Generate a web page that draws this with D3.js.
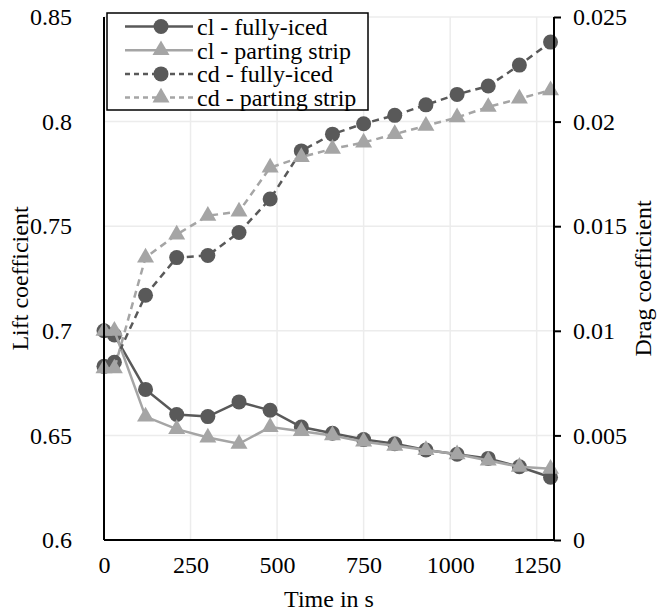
<!DOCTYPE html>
<html><head><meta charset="utf-8">
<script src="https://cdn.jsdelivr.net/npm/d3@7"></script>
<style>
html,body{margin:0;padding:0;background:#fff;}
</style></head>
<body>
<svg id="chart" width="665" height="616"></svg>
<script>
const times = [0,30,120,210,300,390,480,570,660,750,840,930,1020,1110,1200,1290];
const clFullyIced = [0.700,0.698,0.672,0.660,0.659,0.666,0.662,0.654,0.651,0.648,0.646,0.643,0.641,0.639,0.635,0.630];
const clPartingStrip = [0.700,0.700,0.659,0.653,0.649,0.646,0.654,0.652,0.650,0.647,0.645,0.643,0.641,0.638,0.635,0.634];
const cdFullyIced = [0.0083,0.0085,0.0117,0.0135,0.0136,0.0147,0.0163,0.0186,0.0194,0.0199,0.0203,0.0208,0.0213,0.0217,0.0227,0.0238];
const cdPartingStrip = [0.0082,0.0082,0.0135,0.0146,0.0155,0.0157,0.0178,0.0183,0.0187,0.0190,0.0194,0.0198,0.0202,0.0207,0.0211,0.0215];
const xTicks = [0,250,500,750,1000,1250];
const clTicks = [0.6,0.65,0.7,0.75,0.8,0.85];
const cdTicks = [0,0.005,0.01,0.015,0.02,0.025];
const seriesNames = ["cl - fully-iced","cl - parting strip","cd - fully-iced","cd - parting strip"];

const FONT = "'Liberation Serif', serif";
const dark = "#595959", light = "#a5a5a5";
const FS = 24;
const svg = d3.select("#chart");
const m = {l:104, r:554, t:17, b:540};
const x = d3.scaleLinear().domain([0,1300]).range([m.l, m.r]);
const yL = d3.scaleLinear().domain([0.6,0.85]).range([m.b, m.t]);
const yR = d3.scaleLinear().domain([0,0.025]).range([m.b, m.t]);

function txt(sel){ return sel.style("font-family", FONT).style("font-size", FS+"px").attr("fill","#000"); }

// gridlines
const g = svg.append("g");
g.selectAll(".hg").data(clTicks).join("line")
  .attr("x1", m.l).attr("x2", m.r).attr("y1", d=>yL(d)).attr("y2", d=>yL(d))
  .attr("stroke", "#ececec").attr("stroke-width", 1.5);
g.selectAll(".vg").data(xTicks.slice(1)).join("line")
  .attr("x1", d=>x(d)).attr("x2", d=>x(d)).attr("y1", m.t).attr("y2", m.b)
  .attr("stroke", "#ececec").attr("stroke-width", 1.5);

const series = [
  {name: seriesNames[0], vals: clFullyIced, y: yL, color: dark, dash: null, sym: "circle"},
  {name: seriesNames[1], vals: clPartingStrip, y: yL, color: light, dash: null, sym: "tri"},
  {name: seriesNames[2], vals: cdFullyIced, y: yR, color: dark, dash: "7,5", sym: "circle"},
  {name: seriesNames[3], vals: cdPartingStrip, y: yR, color: light, dash: "7,5", sym: "tri"}
];
const tri = d3.symbol().type(d3.symbolTriangle).size(125);

function marker(sel, s, cx, cy){
  if (s.sym === "circle") sel.append("circle").attr("cx",cx).attr("cy",cy).attr("r",7.5).attr("fill",s.color);
  else sel.append("path").attr("d", tri()).attr("transform",`translate(${cx},${cy})`).attr("fill",s.color);
}

series.forEach(s=>{
  const pts = times.map((t,i)=>[x(t), s.y(s.vals[i])]);
  svg.append("path").attr("d", d3.line()(pts)).attr("fill","none").attr("stroke", s.color)
    .attr("stroke-width", 2.5).attr("stroke-dasharray", s.dash);
  const mg = svg.append("g");
  pts.forEach(p=>marker(mg, s, p[0], p[1]));
});

// axes (drawn after the series)
const axB = svg.append("g").attr("transform", `translate(0,${m.b})`)
  .call(d3.axisBottom(x).tickValues(xTicks).tickSize(0).tickPadding(16).tickFormat(d3.format("d")));
const axL = svg.append("g").attr("transform", `translate(${m.l},0)`)
  .call(d3.axisLeft(yL).tickValues(clTicks).tickSize(0).tickPadding(32).tickFormat(d=>String(+d.toFixed(3))));
const axR = svg.append("g").attr("transform", `translate(${m.r},0)`)
  .call(d3.axisRight(yR).tickValues(cdTicks).tickSize(7).tickPadding(12).tickFormat(d=>String(+d.toFixed(4))));
[axB, axL, axR].forEach(a=>{
  a.attr("font-family", null).attr("font-size", null);
  txt(a.selectAll("text"));
  a.select(".domain").attr("stroke","#000").attr("stroke-width",2);
  a.selectAll(".tick line").attr("stroke","#000").attr("stroke-width",2);
});
axB.select(".domain").attr("d", `M${m.l},0H${m.r}`);
axL.select(".domain").attr("d", `M0,${m.t}V${m.b}`);
axR.select(".domain").attr("d", `M0,${m.t}V${m.b}`);

// axis titles
txt(svg.append("text").attr("x", (m.l+m.r)/2).attr("y", 607).attr("text-anchor","middle")).text("Time in s");
txt(svg.append("text").attr("transform", `translate(28,${(m.t+m.b)/2}) rotate(-90)`).attr("text-anchor","middle")).text("Lift coefficient");
txt(svg.append("text").attr("transform", `translate(651,${(m.t+m.b)/2}) rotate(-90)`).attr("text-anchor","middle")).text("Drag coefficient");

// legend
const lg = svg.append("g");
lg.append("rect").attr("x",107).attr("y",13).attr("width",261).attr("height",97)
  .attr("fill","#fff").attr("stroke","#000").attr("stroke-width",1.5);
series.forEach((s,i)=>{
  const cy = 26.5 + i*23.7;
  lg.append("line").attr("x1",125).attr("x2",193).attr("y1",cy).attr("y2",cy)
    .attr("stroke",s.color).attr("stroke-width",2.5).attr("stroke-dasharray", s.dash ? "5,4" : null);
  marker(lg, s, 161, cy);
  txt(lg.append("text").attr("x",197).attr("y",cy).attr("dy","0.35em")).text(s.name);
});
</script>
</body></html>
